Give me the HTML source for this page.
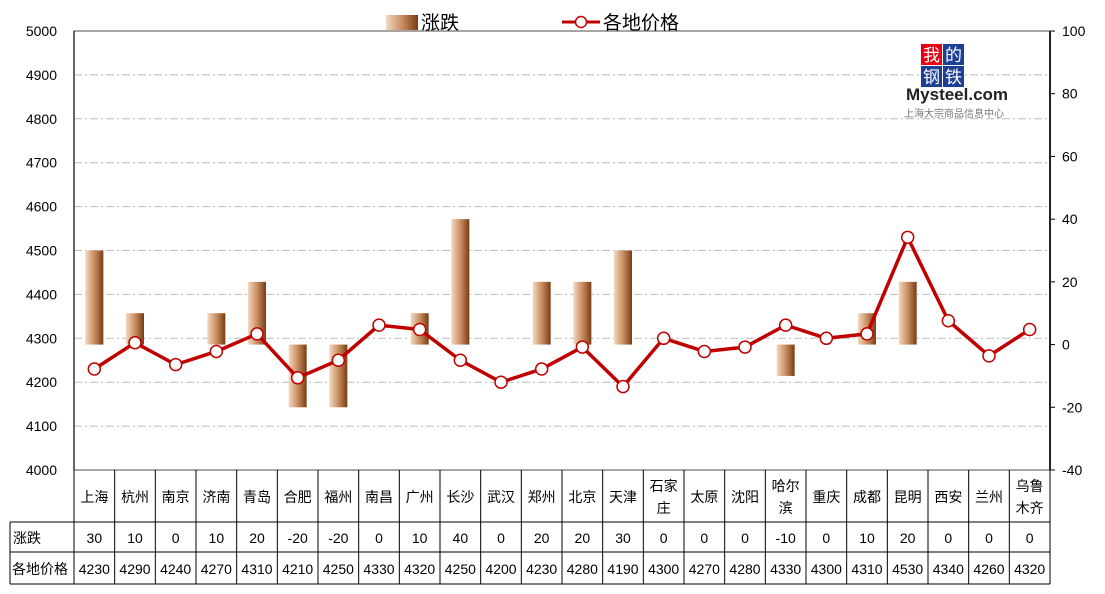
<!DOCTYPE html>
<html><head><meta charset="utf-8">
<style>
body{margin:0;background:#fff;}
svg{display:block;font-family:"Liberation Sans","Noto Sans CJK SC",sans-serif;}
</style></head>
<body>
<svg id="c" width="1105" height="594" viewBox="0 0 1105 594" xmlns="http://www.w3.org/2000/svg">
<defs>
<linearGradient id="bg" x1="0" x2="1" y1="0" y2="0">
<stop offset="0" stop-color="#f3d9c0"/><stop offset="0.5" stop-color="#c98e62"/><stop offset="1" stop-color="#7a3b12"/>
</linearGradient>
</defs>
<g id="grid"></g>
<g id="bars"></g>
<g id="line"></g>
<g id="axes"></g>
<g id="table"></g>
<g>
<rect x="386" y="15" width="32" height="15" fill="url(#bg)"/>
<text x="421" y="29" font-size="19" fill="#000">涨跌</text>
<line x1="562" y1="22" x2="600" y2="22" stroke="#c00000" stroke-width="3"/>
<circle cx="581" cy="22" r="5.5" fill="#fff" stroke="#c00000" stroke-width="1.5"/>
<text x="603" y="29" font-size="19" fill="#000">各地价格</text>
</g>
<g>
<rect x="921" y="44" width="21" height="21" fill="#e60012"/><rect x="943" y="44" width="21" height="21" fill="#1d3f95"/>
<rect x="921" y="66" width="21" height="21" fill="#1d3f95"/><rect x="943" y="66" width="21" height="21" fill="#1d3f95"/>
<text x="931.5" y="61" font-size="17" fill="#fff" text-anchor="middle">我</text>
<text x="953.5" y="61" font-size="17" fill="#fff" text-anchor="middle">的</text>
<text x="931.5" y="83" font-size="17" fill="#fff" text-anchor="middle">钢</text>
<text x="953.5" y="83" font-size="17" fill="#fff" text-anchor="middle">铁</text>
<text x="906" y="100" font-size="17" font-weight="bold" fill="#222">Mysteel.com</text>
<text x="904" y="117" font-size="10" fill="#777">上海大宗商品信息中心</text>
</g>
</svg>
<script>
const categories=["上海","杭州","南京","济南","青岛","合肥","福州","南昌","广州","长沙","武汉","郑州","北京","天津","石家庄","太原","沈阳","哈尔滨","重庆","成都","昆明","西安","兰州","乌鲁木齐"];
const changes=[30,10,0,10,20,-20,-20,0,10,40,0,20,20,30,0,0,0,-10,0,10,20,0,0,0];
const prices=[4230,4290,4240,4270,4310,4210,4250,4330,4320,4250,4200,4230,4280,4190,4300,4270,4280,4330,4300,4310,4530,4340,4260,4320];
const leftTicks=[4000,4100,4200,4300,4400,4500,4600,4700,4800,4900,5000];
const rightTicks=[-40,-20,0,20,40,60,80,100];
const catLines=[["上海"],["杭州"],["南京"],["济南"],["青岛"],["合肥"],["福州"],["南昌"],["广州"],["长沙"],["武汉"],["郑州"],["北京"],["天津"],["石家","庄"],["太原"],["沈阳"],["哈尔","滨"],["重庆"],["成都"],["昆明"],["西安"],["兰州"],["乌鲁","木齐"]];

const NS="http://www.w3.org/2000/svg";
const X0=74,X1=1050,Y0=31,Y1=470;
const cw=(X1-X0)/categories.length;
const yL=v=>Y1-(v-4000)/1000*(Y1-Y0);
const yR=v=>Y1-(v+40)/140*(Y1-Y0);
const xC=i=>X0+cw*(i+0.5);
function mk(tag,attrs,parent,txt){const e=document.createElementNS(NS,tag);for(const k in attrs)e.setAttribute(k,attrs[k]);if(txt!==undefined)e.textContent=txt;parent.appendChild(e);return e;}
const G=id=>document.getElementById(id);

leftTicks.forEach(t=>{
  if(t>4000&&t<5000){const l=mk('line',{x1:X0,x2:X1,y1:yL(t),y2:yL(t),stroke:'#bbb','stroke-dasharray':'8 3 2 3'},G('grid'));
  
  }
  const tx=mk('text',{x:X0-17,y:yL(t)+5,'font-size':14,'text-anchor':'end',fill:'#000'},G('axes'),t);
  
  
});
rightTicks.forEach(t=>{
  mk('line',{x1:X1,x2:X1+5,y1:yR(t),y2:yR(t),stroke:'#000'},G('axes'));
  const tx=mk('text',{x:X1+12,y:yR(t)+5,'font-size':14,fill:'#000'},G('axes'),t);
  
  
});
mk('rect',{x:X0,y:Y0,width:X1-X0,height:Y1-Y0,fill:'none',stroke:'#888','stroke-width':1.5},G('axes'));
mk('line',{x1:X0,x2:X0,y1:Y0,y2:Y1,stroke:'#444','stroke-width':1.5},G('axes'));
mk('line',{x1:X1,x2:X1,y1:Y0,y2:Y1,stroke:'#222','stroke-width':2},G('axes'));

changes.forEach((v,i)=>{
  if(v===0)return;
  const y=Math.min(yR(0),yR(v)),h=Math.abs(yR(v)-yR(0));
  const r=mk('rect',{x:xC(i)-9,y:y,width:18,height:h,fill:'url(#bg)'},G('bars'));
  
  
});
const pts=prices.map((p,i)=>xC(i)+','+yL(p)).join(' ');
const pl=mk('polyline',{points:pts,fill:'none',stroke:'#c00000','stroke-width':3.5,'stroke-linejoin':'round'},G('line'));


prices.forEach((p,i)=>{
  const c=mk('circle',{cx:xC(i),cy:yL(p),r:6,fill:'#fff',stroke:'#c00000','stroke-width':1.5},G('line'));
  
  
});

// table
const T=G('table');
const r1=522,r2=552,r3=584;
mk('line',{x1:X0,x2:X1,y1:r1,y2:r1,stroke:'#000'},T);
mk('line',{x1:10,x2:X1,y1:r1,y2:r1,stroke:'#000'},T);
mk('line',{x1:10,x2:X1,y1:r2,y2:r2,stroke:'#000'},T);
mk('line',{x1:10,x2:X1,y1:r3,y2:r3,stroke:'#000'},T);
mk('line',{x1:10,x2:10,y1:r1,y2:r3,stroke:'#000'},T);
for(let i=0;i<=categories.length;i++){const x=X0+cw*i;mk('line',{x1:x,x2:x,y1:Y1,y2:r3,stroke:'#000'},T);}
const l1=mk('text',{x:13,y:543,'font-size':14},T,'涨跌');


const l2=mk('text',{x:12,y:574,'font-size':14},T,'各地价格');


categories.forEach((c,i)=>{
  const lines=catLines[i];
  lines.forEach((s,j)=>{
    const yy=lines.length===1?502:491+j*22;
    const t=mk('text',{x:xC(i),y:yy,'font-size':14,'text-anchor':'middle'},T,s);
    
    
  });
  const a=mk('text',{x:xC(i),y:543,'font-size':14,'text-anchor':'middle'},T,changes[i]);
  
  
  const b=mk('text',{x:xC(i),y:574,'font-size':14,'text-anchor':'middle'},T,prices[i]);
  
  
});
</script>
</body></html>
